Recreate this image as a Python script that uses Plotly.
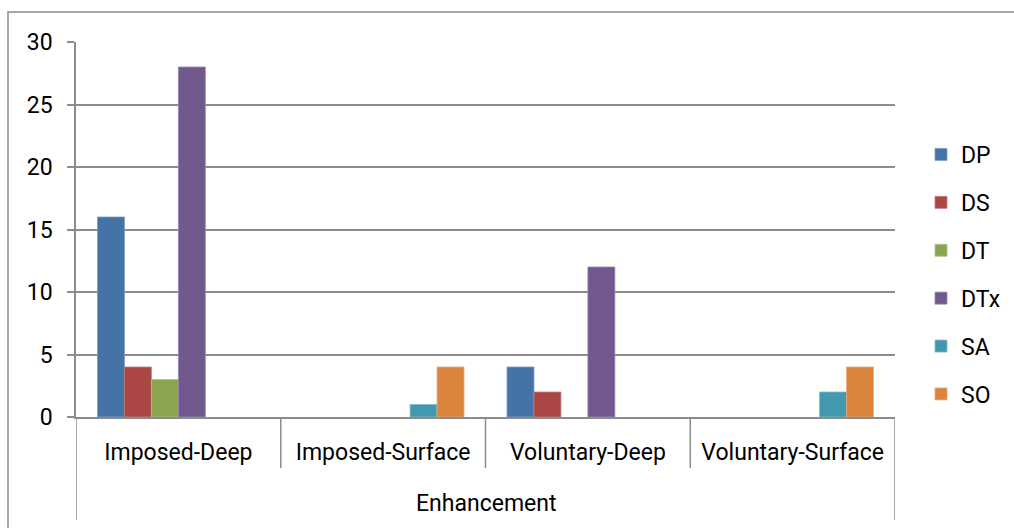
import plotly.graph_objects as go

categories = ["Imposed-Deep", "Imposed-Surface", "Voluntary-Deep", "Voluntary-Surface"]
parent_label = "Enhancement"
series_names = ["DP", "DS", "DT", "DTx", "SA", "SO"]
dp = [16, None, 4, None]
ds = [4, None, 2, None]
dt = [3, None, None, None]
dtx = [28, None, 12, None]
sa = [None, 1, None, 2]
so = [None, 4, None, 4]
y_ticks = [0, 5, 10, 15, 20, 25, 30]

series_values = [dp, ds, dt, dtx, sa, so]
colors = ["#4572A7", "#AA4643", "#89A54E", "#71588F", "#4198AF", "#DB843D"]
line_colors = ["#7A9CC4", "#C47E7C", "#AFC489", "#9A88B1", "#7DBACB", "#E8A977"]

FONT = "Roboto"
FS = 23
W, H = 1014, 528
ML, MR, MT, MB = 76, 119, 42, 111
PW = W - ML - MR
PH = H - MT - MB

fig = go.Figure()
for name, vals, c, lc in zip(series_names, series_values, colors, line_colors):
    fig.add_trace(go.Bar(
        name=name, x=categories, y=vals,
        marker=dict(color=c, line=dict(color=lc, width=0.8)),
        legendgroup=name,
    ))

def py(pix):
    return (H - MB - pix) / PH

def px(pix):
    return (pix - ML) / PW

shapes = []
grey = "#8c8c8c"
for i in range(len(categories) + 1):
    xpos = i - 0.5
    outer = i == 0 or i == len(categories)
    shapes.append(dict(type="line", xref="x", yref="paper", x0=xpos, x1=xpos,
                       y0=0, y1=py(520 if outer else 468),
                       line=dict(color=grey, width=1.5)))
shapes.append(dict(type="rect", xref="paper", yref="paper",
                   x0=px(8), x1=px(1030), y0=py(12), y1=py(560),
                   line=dict(color="#8c8c8c", width=1.5), fillcolor="rgba(0,0,0,0)", layer="below"))

fig.update_layout(
    width=W, height=H,
    margin=dict(l=ML, r=MR, t=MT, b=MB, pad=0, autoexpand=False),
    paper_bgcolor="white", plot_bgcolor="white",
    barmode="group", bargap=0.21, bargroupgap=0,
    font=dict(family=FONT, size=FS, color="#000000"),
    showlegend=True,
    legend=dict(x=px(921), y=py(133), xanchor="left", yanchor="top",
                font=dict(family=FONT, size=FS), tracegroupgap=15,
                traceorder="grouped", bgcolor="rgba(0,0,0,0)",
                itemwidth=30),
    xaxis=dict(type="category", showgrid=False, showline=True, linecolor=grey, linewidth=1.5,
               ticks="", tickfont=dict(family=FONT, size=FS), ticklabelstandoff=14,
               range=[-0.5, 3.5], zeroline=False),
    yaxis=dict(range=[0, 30], tickvals=y_ticks, showgrid=True, gridcolor=grey, gridwidth=1.5,
               showline=True, linecolor=grey, linewidth=1.5, ticks="outside", ticklen=7,
               tickcolor=grey, tickwidth=1.5, tickfont=dict(family=FONT, size=FS),
               ticklabelstandoff=10, zeroline=False),
    shapes=shapes,
    annotations=[dict(text=parent_label, xref="paper", yref="paper", x=0.5, y=py(503),
                      xanchor="center", yanchor="middle", showarrow=False,
                      font=dict(family=FONT, size=FS))],
)
fig.write_html("out.html")
